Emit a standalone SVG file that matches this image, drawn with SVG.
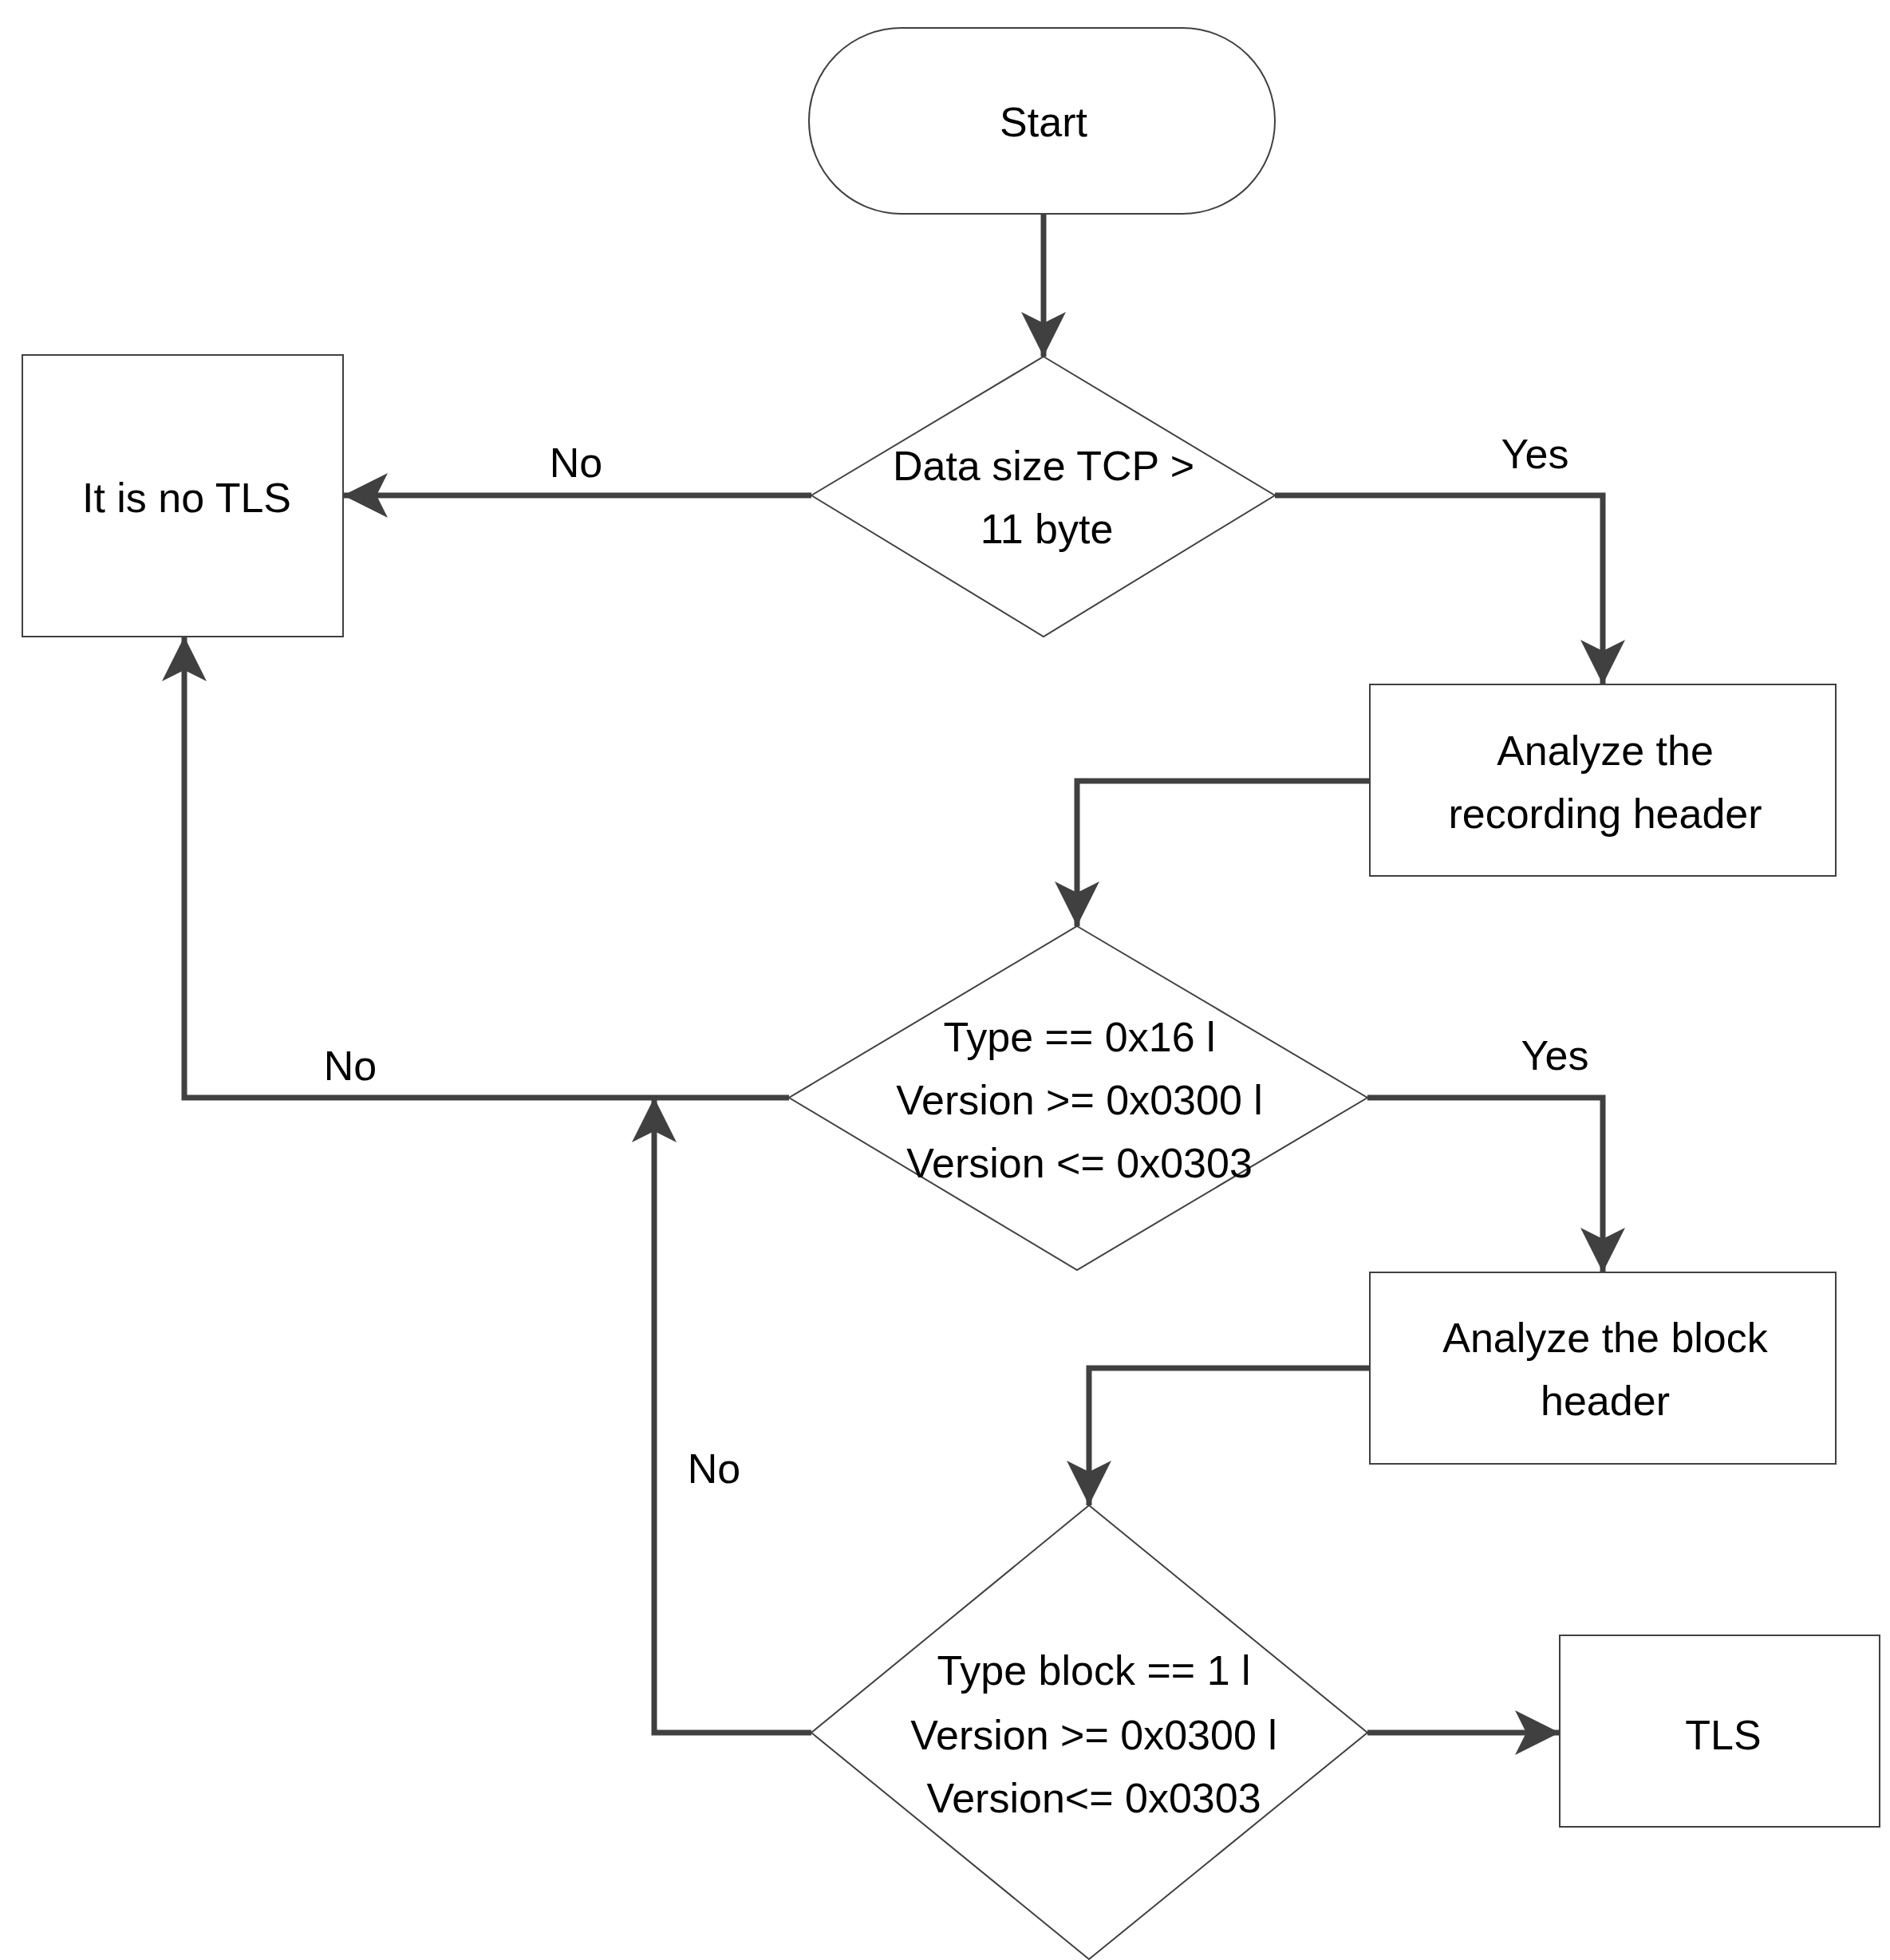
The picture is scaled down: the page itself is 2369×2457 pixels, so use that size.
<svg xmlns="http://www.w3.org/2000/svg" width="2369" height="2457" viewBox="0 0 2369 2457">
<style>
.n{fill:#fff;stroke:#404040;stroke-width:2}
.t{font-family:"Liberation Sans",Arial,sans-serif;font-size:52px;fill:#000;text-anchor:middle;dominant-baseline:central}
.c{fill:none;stroke:#404040;stroke-width:7}
</style>
<defs>
<marker id="a" markerUnits="userSpaceOnUse" markerWidth="60" markerHeight="60" refX="56" refY="28" orient="auto">
<path d="M0,0 L56,28 L0,56 L14,28 Z" fill="#404040"/>
</marker>
</defs>
<rect width="2369" height="2457" fill="#fff"/>
<g id="connectors">
<path class="c" d="M1308,268 V447" marker-end="url(#a)"/>
<path class="c" d="M1017,621 H430" marker-end="url(#a)"/>
<path class="c" d="M1598,621 H2009 V858" marker-end="url(#a)"/>
<path class="c" d="M1717,979 H1350 V1161" marker-end="url(#a)"/>
<path class="c" d="M989,1376 H231 V798" marker-end="url(#a)"/>
<path class="c" d="M1714,1376 H2009 V1595" marker-end="url(#a)"/>
<path class="c" d="M1717,1715 H1365 V1887" marker-end="url(#a)"/>
<path class="c" d="M1017,2172 H820 V1376" marker-end="url(#a)"/>
<path class="c" d="M1714,2172 H1955" marker-end="url(#a)"/>
<text class="t" x="722" y="580">No</text>
<text class="t" x="1924" y="569">Yes</text>
<text class="t" x="439" y="1336">No</text>
<text class="t" x="1949" y="1323">Yes</text>
<text class="t" x="895" y="1841">No</text>
</g>
<g id="start"><rect class="n" x="1014" y="35" width="584" height="233" rx="116"/><text class="t" x="1308" y="153">Start</text></g>
<g id="d1"><polygon class="n" points="1308,447 1598,621 1308,798 1017,621"/><text class="t" x="1308" y="584">Data size TCP   &gt;</text><text class="t" x="1312" y="663">11  byte</text></g>
<g id="notls"><rect class="n" x="28" y="445" width="402" height="353"/><text class="t" x="234" y="624">It is no TLS</text></g>
<g id="b2"><rect class="n" x="1717" y="858" width="584" height="240"/><text class="t" x="2012" y="941">Analyze the</text><text class="t" x="2012" y="1020">recording header</text></g>
<g id="d2"><polygon class="n" points="1350,1161 1714,1376 1350,1592 989,1376"/><text class="t" x="1353" y="1300">Type == 0x16 l</text><text class="t" x="1353" y="1379">Version &gt;= 0x0300 l</text><text class="t" x="1353" y="1458">Version &lt;= 0x0303</text></g>
<g id="b3"><rect class="n" x="1717" y="1595" width="584" height="240"/><text class="t" x="2012" y="1677">Analyze the block</text><text class="t" x="2012" y="1756">header</text></g>
<g id="d3"><polygon class="n" points="1365,1887 1714,2172 1365,2456 1017,2172"/><text class="t" x="1371" y="2094">Type  block == 1 l</text><text class="t" x="1371" y="2175">Version &gt;= 0x0300 l</text><text class="t" x="1371" y="2254">Version&lt;= 0x0303</text></g>
<g id="tls"><rect class="n" x="1955" y="2050" width="401" height="240"/><text class="t" x="2160" y="2175">TLS</text></g>
</svg>
